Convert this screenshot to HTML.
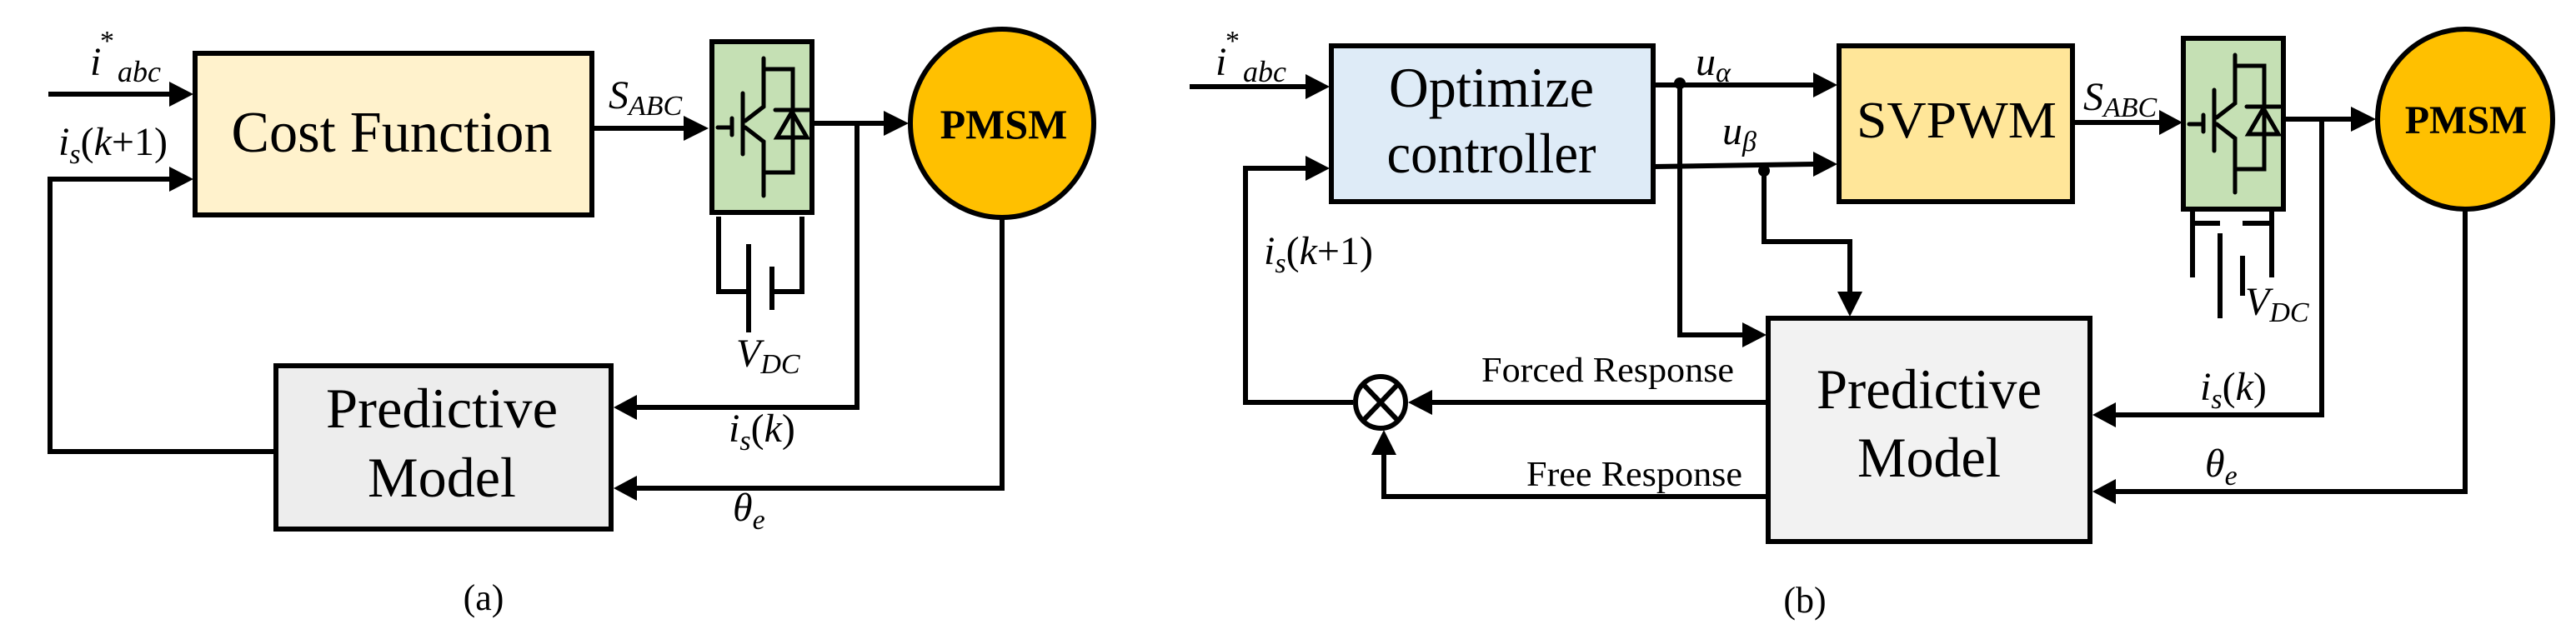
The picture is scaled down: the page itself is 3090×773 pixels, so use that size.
<!DOCTYPE html>
<html><head><meta charset="utf-8"><style>
html,body{margin:0;padding:0;background:#fff;}
svg{display:block;}
svg text{font-family:"Liberation Serif","Times New Roman","DejaVu Serif",serif;fill:#000;}
.it{font-style:italic;}
</style></head><body>
<svg width="3090" height="773" viewBox="0 0 3090 773" xmlns="http://www.w3.org/2000/svg" font-family="Liberation Serif, Times New Roman, serif">
<defs>
<g id="inv">
  <rect x="0" y="0" width="120" height="205" fill="#c5e0b4" stroke="#000" stroke-width="6"/>
  <g stroke="#000" stroke-width="5" fill="none" stroke-linecap="round">
    <line x1="7" y1="103" x2="24" y2="103"/>
    <line x1="24" y1="92" x2="24" y2="112"/>
    <line x1="37" y1="62" x2="37" y2="135"/>
    <polyline points="62,20 62,78 40,95"/>
    <polyline points="40,103 62,120 62,185"/>
    <polyline points="62,33 97,33 97,157 62,157"/>
    <line x1="76" y1="82" x2="116" y2="82"/>
  </g>
  <polygon points="96,84 78,115 114,115" fill="none" stroke="#000" stroke-width="5"/>
</g>
</defs>

<!-- ===== Panel (a) ===== -->
<rect x="234" y="64" width="476" height="194" fill="#fff2cc" stroke="#000" stroke-width="6"/>
<text x="470" y="182" font-size="70" text-anchor="middle" textLength="385" lengthAdjust="spacingAndGlyphs">Cost Function</text>

<rect x="331" y="439" width="402" height="196" fill="#ededed" stroke="#000" stroke-width="6"/>
<text x="530" y="513" font-size="68" text-anchor="middle" textLength="278" lengthAdjust="spacingAndGlyphs">Predictive</text>
<text x="530" y="596" font-size="68" text-anchor="middle" textLength="178" lengthAdjust="spacingAndGlyphs">Model</text>

<g stroke="#000" stroke-width="6" fill="none">
  <line x1="58" y1="113" x2="205" y2="113"/>
  <polyline points="205,215 60,215 60,542 331,542"/>
  <line x1="711" y1="154" x2="822" y2="154"/>
  <line x1="977" y1="148" x2="1062" y2="148"/>
  <polyline points="1028,148 1028,489 762,489"/>
  <polyline points="1202,262 1202,586 762,586"/>
  <polyline points="862,260 862,350 898,350"/>
  <polyline points="962,260 962,350 926,350"/>
  <line x1="898" y1="293" x2="898" y2="399"/>
  <line x1="926" y1="320" x2="926" y2="372"/>
</g>
<g fill="#000">
  <polygon points="203,98 232,113 203,128"/>
  <polygon points="203,200 232,215 203,230"/>
  <polygon points="820,139 850,154 820,169"/>
  <polygon points="1060,133 1090,148 1060,163"/>
  <polygon points="764,474 736,489 764,504"/>
  <polygon points="764,571 736,586 764,601"/>
</g>
<use href="#inv" x="854" y="50"/>
<ellipse cx="1202" cy="148" rx="110" ry="113" fill="#ffc000" stroke="#000" stroke-width="6"/>
<text x="1204" y="166" font-size="50" font-weight="bold" text-anchor="middle">PMSM</text>

<text x="108" y="90" font-size="48" class="it">i</text>
<text x="120" y="60" font-size="34">*</text>
<text x="141" y="98" font-size="36" class="it">abc</text>
<text x="70" y="186" font-size="48"><tspan class="it">i</tspan><tspan class="it" font-size="34" dy="10">s</tspan><tspan dy="-10">(</tspan><tspan class="it">k</tspan>+1)</text>
<text x="730" y="130" font-size="48" class="it">S<tspan font-size="34" dy="8">ABC</tspan></text>
<text x="883" y="440" font-size="48" class="it">V<tspan font-size="34" dy="8">DC</tspan></text>
<text x="874" y="530" font-size="48"><tspan class="it">i</tspan><tspan class="it" font-size="34" dy="10">s</tspan><tspan dy="-10">(</tspan><tspan class="it">k</tspan>)</text>
<text x="879" y="625" font-size="48" class="it">θ<tspan font-size="34" dy="10">e</tspan></text>
<text x="580" y="732" font-size="44" text-anchor="middle">(a)</text>

<!-- ===== Panel (b) ===== -->
<rect x="1597" y="55" width="386" height="187" fill="#deebf7" stroke="#000" stroke-width="6"/>
<text x="1789" y="128" font-size="68" text-anchor="middle" textLength="246" lengthAdjust="spacingAndGlyphs">Optimize</text>
<text x="1789" y="207" font-size="68" text-anchor="middle" textLength="251" lengthAdjust="spacingAndGlyphs">controller</text>

<rect x="2206" y="55" width="280" height="187" fill="#ffe699" stroke="#000" stroke-width="6"/>
<text x="2347" y="165" font-size="62" text-anchor="middle" textLength="240" lengthAdjust="spacingAndGlyphs">SVPWM</text>

<rect x="2121" y="382" width="386" height="268" fill="#f2f2f2" stroke="#000" stroke-width="6"/>
<text x="2314" y="490" font-size="68" text-anchor="middle" textLength="270" lengthAdjust="spacingAndGlyphs">Predictive</text>
<text x="2314" y="572" font-size="68" text-anchor="middle" textLength="172" lengthAdjust="spacingAndGlyphs">Model</text>

<g stroke="#000" stroke-width="6" fill="none">
  <line x1="1427" y1="104" x2="1566" y2="104"/>
  <polyline points="1566,202 1494,202 1494,483 1623,483"/>
  <line x1="1983" y1="102" x2="2176" y2="102"/>
  <line x1="1983" y1="200" x2="2176" y2="197"/>
  <polyline points="2015,102 2015,402 2092,402"/>
  <polyline points="2116,200 2116,290 2219,290 2219,352"/>
  <line x1="2121" y1="483" x2="1718" y2="483"/>
  <polyline points="2121,596 1660,596 1660,545"/>
  <line x1="2486" y1="147" x2="2592" y2="147"/>
  <line x1="2738" y1="143" x2="2822" y2="143"/>
  <polyline points="2785,143 2785,498 2538,498"/>
  <polyline points="2957,252 2957,590 2538,590"/>
  <polyline points="2630,250 2630,333"/>
  <polyline points="2725,250 2725,333"/>
  <line x1="2630" y1="268" x2="2663" y2="268"/>
  <line x1="2690" y1="268" x2="2725" y2="268"/>
  <line x1="2663" y1="280" x2="2663" y2="382"/>
  <line x1="2690" y1="307" x2="2690" y2="355"/>
  <ellipse cx="1656" cy="483" rx="30" ry="31"/>
  <line x1="1635" y1="461" x2="1677" y2="505"/>
  <line x1="1677" y1="461" x2="1635" y2="505"/>
</g>
<g fill="#000">
  <polygon points="1566,89 1595,104 1566,119"/>
  <polygon points="1566,187 1595,202 1566,217"/>
  <polygon points="2175,87 2204,102 2175,117"/>
  <polygon points="2175,182 2204,197 2175,212"/>
  <polygon points="2090,387 2119,402 2090,417"/>
  <polygon points="2204,350 2234,350 2219,380"/>
  <polygon points="1718,468 1689,483 1718,498"/>
  <polygon points="1645,546 1675,546 1660,516"/>
  <polygon points="2590,132 2618,147 2590,162"/>
  <polygon points="2820,128 2850,143 2820,158"/>
  <polygon points="2538,483 2510,498 2538,513"/>
  <polygon points="2538,575 2510,590 2538,605"/>
  <circle cx="2015" cy="100" r="7"/>
  <circle cx="2116" cy="205" r="7"/>
</g>
<use href="#inv" x="2619" y="46"/>
<ellipse cx="2957" cy="143" rx="105" ry="108" fill="#ffc000" stroke="#000" stroke-width="6"/>
<text x="2958" y="160" font-size="48" font-weight="bold" text-anchor="middle">PMSM</text>

<text x="1458" y="90" font-size="48" class="it">i</text>
<text x="1470" y="60" font-size="34">*</text>
<text x="1491" y="98" font-size="36" class="it">abc</text>
<text x="2034" y="90" font-size="48" class="it">u<tspan font-size="34" dy="8">α</tspan></text>
<text x="2066" y="173" font-size="48" class="it">u<tspan font-size="34" dy="8">β</tspan></text>
<text x="1516" y="317" font-size="48"><tspan class="it">i</tspan><tspan class="it" font-size="34" dy="10">s</tspan><tspan dy="-10">(</tspan><tspan class="it">k</tspan>+1)</text>
<text x="2499" y="132" font-size="48" class="it">S<tspan font-size="34" dy="8">ABC</tspan></text>
<text x="2693" y="378" font-size="48" class="it">V<tspan font-size="34" dy="8">DC</tspan></text>
<text x="2639" y="480" font-size="48"><tspan class="it">i</tspan><tspan class="it" font-size="34" dy="10">s</tspan><tspan dy="-10">(</tspan><tspan class="it">k</tspan>)</text>
<text x="2645" y="572" font-size="48" class="it">θ<tspan font-size="34" dy="10">e</tspan></text>
<text x="1777" y="458" font-size="42" textLength="303" lengthAdjust="spacingAndGlyphs">Forced Response</text>
<text x="1831" y="583" font-size="42" textLength="259" lengthAdjust="spacingAndGlyphs">Free Response</text>
<text x="2165" y="735" font-size="44" text-anchor="middle">(b)</text>
</svg>
</body></html>
